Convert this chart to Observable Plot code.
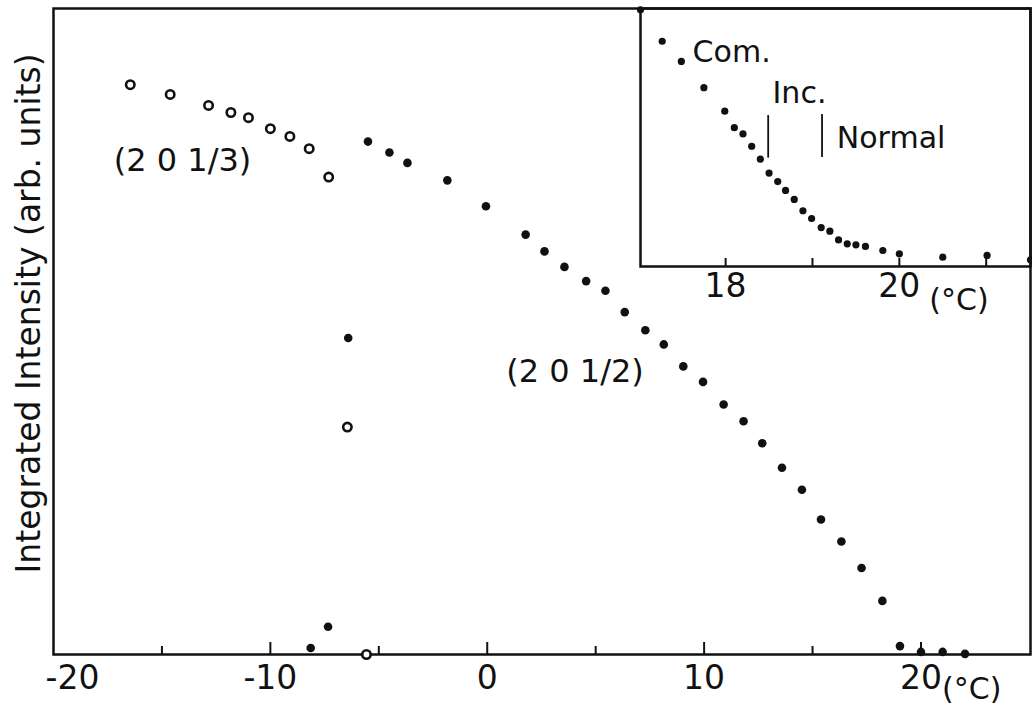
<!DOCTYPE html>
<html><head><meta charset="utf-8">
<script src="https://cdn.jsdelivr.net/npm/d3@7"></script>
<script src="https://cdn.jsdelivr.net/npm/@observablehq/plot@0.6"></script>
<style>
html,body{margin:0;padding:0;background:#fff;}
#wrap{position:relative;width:1032px;height:706px;overflow:hidden;}
#main{position:absolute;left:0;top:0;}
#inset{position:absolute;left:600px;top:0;}
</style></head><body>
<div id="wrap"><div id="main"></div><div id="inset"></div></div>
<script>
// ---- Main panel data: (2 0 1/3) open circles ----
const open13T = [-16.46, -14.62, -12.85, -11.82, -11.01, -10.00, -9.10, -8.21, -7.31, -6.45, -5.57];
const open13I = [88.2, 86.7, 85.0, 83.9, 83.1, 81.4, 80.2, 78.3, 73.9, 35.2, 0.0];
// ---- Main panel data: (2 0 1/2) filled circles ----
const full12T = [-8.14, -7.34, -6.41, -5.50, -4.51, -3.68, -1.84, -0.06, 1.77, 2.64, 3.56, 4.56, 5.45, 6.34, 7.29, 8.14, 9.04, 9.95, 10.90, 11.82, 12.68, 13.59, 14.51, 15.39, 16.33, 17.26, 18.22, 19.03, 20.00, 21.00, 22.03];
const full12I = [1.0, 4.3, 49.0, 79.4, 77.7, 76.1, 73.4, 69.4, 65.0, 62.4, 60.0, 57.8, 56.3, 53.0, 50.2, 48.0, 44.6, 42.2, 38.7, 36.1, 32.7, 28.9, 25.5, 20.9, 17.5, 13.4, 8.3, 1.3, 0.4, 0.4, 0.1];
// ---- Inset data ----
const insetT = [17.02, 17.27, 17.49, 17.75, 17.99, 18.10, 18.20, 18.30, 18.40, 18.50, 18.60, 18.69, 18.79, 18.89, 18.99, 19.10, 19.20, 19.30, 19.40, 19.50, 19.61, 19.81, 20.00, 20.50, 21.01, 21.51];
const insetI = [99.5, 87.3, 79.5, 69.3, 60.2, 53.8, 51.4, 46.6, 41.6, 36.2, 32.9, 29.5, 26.0, 21.6, 18.6, 15.1, 13.7, 10.3, 8.8, 8.4, 7.8, 6.2, 4.9, 3.6, 4.3, 2.6];
// phase boundaries in inset (Com./Inc. and Inc./Normal)
const boundaryT = [18.49, 19.11];
const boundaryLo = [42.0, 42.2];
const boundaryHi = [58.5, 58.9];
// ---- Ticks and labels ----
const mainTicksMajor = [-10, 0, 10, 20];
const mainTicksMinor = [-15, -5, 5, 15];
const mainTickLabels = [-10, 0, 10, 20];
const mainFirstLabel = [-20];
const insetTicks = [18, 19, 20, 21];
const insetTickLabels = [18, 20];
const yLabel = "Integrated Intensity (arb. units)";
const unitLabel = "(°C)";
const mainNotes = ["(2 0 1/3)", "(2 0 1/2)"];
const mainNotesT = [-14.05, 4.05];
const mainNotesI = [76.5, 43.8];
const insetNotes = ["Com.", "Inc.", "Normal"];
const insetNotesT = [17.62, 18.54, 19.28];
const insetNotesI = [82.9, 67.2, 49.8];

const FONT = "DejaVu Sans";
const INK = "#111";

const open13 = open13T.map((t, i) => ({t, v: open13I[i]}));
const full12 = full12T.map((t, i) => ({t, v: full12I[i]}));
const insetPts = insetT.map((t, i) => ({t, v: insetI[i]}));
const bounds = boundaryT.map((t, i) => ({t, lo: boundaryLo[i], hi: boundaryHi[i]}));
const mNotes = mainNotes.map((s, i) => ({s, t: mainNotesT[i], v: mainNotesI[i]}));
const iNotes = insetNotes.map((s, i) => ({s, t: insetNotesT[i], v: insetNotesI[i]}));

// main panel geometry
const MW = 1032, MH = 706, ML = 53, MR = 2, MT = 8, MB = 52;
const mainFrameH = MH - MT - MB;

const main = Plot.plot({
  width: MW, height: MH,
  marginLeft: ML, marginRight: MR, marginTop: MT, marginBottom: MB,
  x: {domain: [-20, 25.05], label: null},
  y: {domain: [0, 100], axis: null},
  style: {fontFamily: FONT, fontSize: "33px", color: INK, background: "transparent", overflow: "visible"},
  marks: [
    // inward tick marks
    Plot.ruleX(mainTicksMajor, {x: d => d, insetTop: mainFrameH - 12, stroke: INK, strokeWidth: 2}),
    Plot.ruleX(mainTicksMinor, {x: d => d, insetTop: mainFrameH - 8, stroke: INK, strokeWidth: 2}),
    Plot.axisX(mainTickLabels, {tickSize: 0, tickPadding: 11, tickFormat: d => String(d), fontSize: 33, label: null}),
    Plot.axisX(mainFirstLabel, {tickSize: 0, tickPadding: 11, dx: 19, tickFormat: d => String(d), fontSize: 33, label: null}),
    Plot.frame({stroke: INK, strokeWidth: 2.5}),
    Plot.text([unitLabel], {x: () => 20, frameAnchor: "bottom", dx: 21, dy: 35, textAnchor: "start", lineAnchor: "middle", fontSize: 30, fill: INK}),
    Plot.text([yLabel], {frameAnchor: "left", y: () => 52.8, dx: -24, rotate: -90, textAnchor: "middle", lineAnchor: "middle", fontSize: 33, fill: INK}),
    Plot.dot(open13, {x: "t", y: "v", r: 4.2, fill: "white", stroke: INK, strokeWidth: 2.6}),
    Plot.dot(full12, {x: "t", y: "v", r: 4.3, fill: INK, stroke: "none"}),
    Plot.text(mNotes, {x: "t", y: "v", text: "s", fontSize: 32, fill: INK, textAnchor: "middle", lineAnchor: "middle"})
  ]
});
document.getElementById("main").appendChild(main);

// inset geometry
const IW = 432, IH = 320, IL = 40, IR = 2, IT = 8, IB = 54;
const insetFrameH = IH - IT - IB;

const inset = Plot.plot({
  width: IW, height: IH,
  marginLeft: IL, marginRight: IR, marginTop: IT, marginBottom: IB,
  x: {domain: [17.02, 21.51], label: null},
  y: {domain: [0, 100], axis: null},
  style: {fontFamily: FONT, fontSize: "33px", color: INK, background: "transparent", overflow: "visible"},
  marks: [
    Plot.ruleX(insetTicks, {x: d => d, insetTop: insetFrameH - 8, stroke: INK, strokeWidth: 2}),
    Plot.axisX(insetTickLabels, {tickSize: 0, tickPadding: 7, tickFormat: d => String(d), fontSize: 33, label: null}),
    Plot.frame({stroke: INK, strokeWidth: 2.5}),
    Plot.text([unitLabel], {x: () => 20, frameAnchor: "bottom", dx: 30, dy: 34, textAnchor: "start", lineAnchor: "middle", fontSize: 30, fill: INK}),
    Plot.ruleX(bounds, {x: "t", y1: "lo", y2: "hi", stroke: INK, strokeWidth: 1.8}),
    Plot.dot(insetPts, {x: "t", y: "v", r: 3.6, fill: INK, stroke: "none"}),
    Plot.text(iNotes, {x: "t", y: "v", text: "s", fontSize: 30, fill: INK, textAnchor: "start", lineAnchor: "middle"})
  ]
});
document.getElementById("inset").appendChild(inset);
</script>
</body></html>
